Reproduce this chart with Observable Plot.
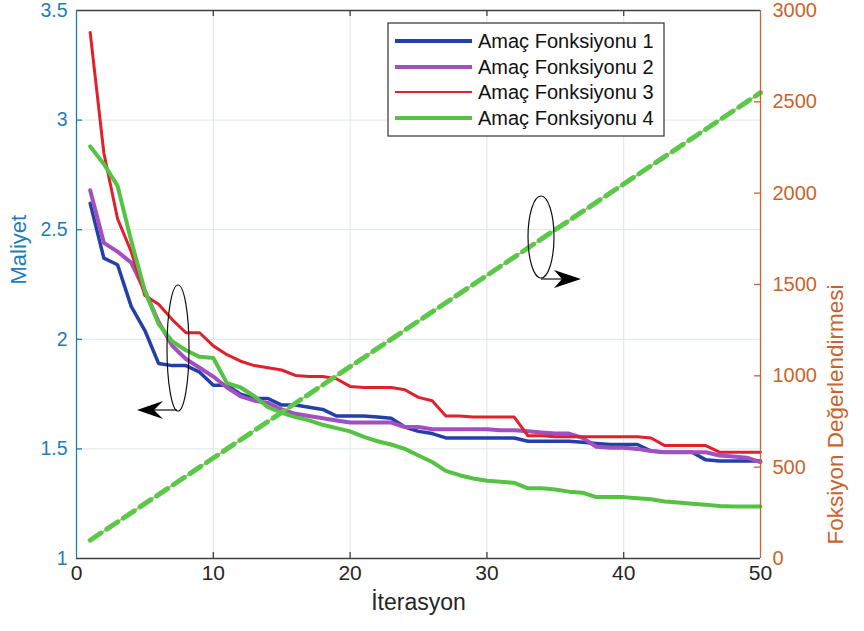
<!DOCTYPE html>
<html>
<head>
<meta charset="utf-8">
<script src="https://cdn.jsdelivr.net/npm/d3@7"></script>
<script src="https://cdn.jsdelivr.net/npm/@observablehq/plot@0.6"></script>
<style>
  html, body { margin: 0; padding: 0; background: #fff; }
  #chart svg { display: block; }
</style>
</head>
<body>
<div id="chart"></div>
<script>
// ---- Data ----
const iterations = [1,2,3,4,5,6,7,8,9,10,11,12,13,14,15,16,17,18,19,20,21,22,23,24,25,26,27,28,29,30,31,32,33,34,35,36,37,38,39,40,41,42,43,44,45,46,47,48,49,50];

const cost1 = [2.62,2.37,2.34,2.15,2.04,1.89,1.88,1.88,1.85,1.79,1.79,1.75,1.73,1.73,1.70,1.70,1.69,1.68,1.65,1.65,
               1.65,1.645,1.64,1.60,1.58,1.57,1.55,1.55,1.55,1.55,1.55,1.55,1.535,1.535,1.535,1.535,1.53,1.525,1.52,1.52,
               1.52,1.49,1.485,1.485,1.485,1.45,1.445,1.445,1.445,1.445];
const cost2 = [2.68,2.44,2.40,2.35,2.22,2.08,1.97,1.91,1.87,1.83,1.78,1.74,1.72,1.71,1.68,1.66,1.65,1.64,1.63,1.62,
               1.62,1.62,1.62,1.60,1.60,1.59,1.59,1.59,1.59,1.59,1.585,1.585,1.58,1.575,1.57,1.57,1.55,1.51,1.505,1.505,
               1.50,1.49,1.485,1.485,1.485,1.485,1.47,1.465,1.46,1.44];
const cost3 = [3.40,2.85,2.55,2.40,2.20,2.16,2.09,2.03,2.03,1.97,1.93,1.90,1.88,1.87,1.86,1.835,1.83,1.83,1.82,1.785,
               1.78,1.78,1.78,1.77,1.735,1.72,1.65,1.65,1.645,1.645,1.645,1.645,1.56,1.56,1.555,1.555,1.555,1.555,1.555,1.555,
               1.555,1.55,1.515,1.515,1.515,1.515,1.485,1.485,1.485,1.485];
const cost4 = [2.88,2.80,2.70,2.45,2.22,2.07,1.99,1.95,1.92,1.915,1.80,1.78,1.74,1.69,1.665,1.645,1.63,1.61,1.595,1.58,
               1.555,1.535,1.52,1.50,1.47,1.44,1.40,1.38,1.365,1.355,1.35,1.345,1.32,1.32,1.315,1.305,1.30,1.28,1.28,1.28,
               1.275,1.27,1.26,1.255,1.25,1.245,1.24,1.237,1.237,1.237];
const evaluations = [100,150,200,250,300,350,400,450,500,550,600,650,700,750,800,850,900,950,1000,1050,
                     1100,1150,1200,1250,1300,1350,1400,1450,1500,1550,1600,1650,1700,1750,1800,1850,1900,1950,2000,2050,
                     2100,2150,2200,2250,2300,2350,2400,2450,2500,2550];

const seriesNames = ["Amaç Fonksiyonu 1", "Amaç Fonksiyonu 2", "Amaç Fonksiyonu 3", "Amaç Fonksiyonu 4"];
const seriesValues = [cost1, cost2, cost3, cost4];

const xTicks = [0, 10, 20, 30, 40, 50];
const costTicks = [1, 1.5, 2, 2.5, 3, 3.5];
const evalTicks = [0, 500, 1000, 1500, 2000, 2500, 3000];
const xDomain = [0, 50];
const costDomain = [1, 3.5];
const evalDomain = [0, 3000];

// ---- Styles ----
const seriesColors = ["#2140a8", "#a24fc0", "#e0202c", "#55c244"];
const seriesWidths = [3.5, 4, 3, 4];
const leftColor = "#1e7db8";
const rightColor = "#c8652e";
const axisColor = "#404040";
const gridColor = "#dde6ea";
const font = "'Liberation Sans', Arial, Helvetica, sans-serif";

// map right axis values onto the left (primary) scale
const evalToCost = d3.scaleLinear(evalDomain, costDomain);

const W = 864, H = 631;
const mT = 10, mR = 104, mB = 73, mL = 76;
const frameW = W - mL - mR, frameH = H - mT - mB;
const tick = 6;

const rows = seriesValues.map(vals => iterations.map((it, i) => ({it, v: vals[i]})));
const evalRows = iterations.map((it, i) => ({it, fe: evaluations[i]}));

const plot = Plot.plot({
  width: W, height: H,
  marginTop: mT, marginRight: mR, marginBottom: mB, marginLeft: mL,
  x: {domain: xDomain, axis: null},
  y: {domain: costDomain, axis: null},
  style: {fontFamily: font, background: "#fff", overflow: "visible"},
  marks: [
    Plot.gridX(xTicks.slice(1, -1), {stroke: gridColor, strokeOpacity: 1, strokeWidth: 1}),
    Plot.gridY(costTicks.slice(1, -1), {stroke: gridColor, strokeOpacity: 1, strokeWidth: 1}),
    // data lines
    ...rows.map((r, k) => Plot.line(r, {x: "it", y: "v", stroke: seriesColors[k], strokeWidth: seriesWidths[k], strokeLinejoin: "round", strokeLinecap: "round"})),
    // function evaluations (right axis)
    Plot.line(evalRows, {x: "it", y: d => evalToCost(d.fe), stroke: "#b9b070", strokeWidth: 1.5}),
    Plot.line(evalRows, {x: "it", y: d => evalToCost(d.fe), stroke: "#5cc84a", strokeWidth: 5, strokeDasharray: "13,7"}),
    // box / axis lines
    Plot.ruleY([costDomain[0]], {stroke: axisColor, strokeWidth: 1.3}),
    Plot.ruleY([costDomain[1]], {stroke: axisColor, strokeWidth: 1.3}),
    Plot.ruleX([xDomain[0]], {stroke: leftColor, strokeWidth: 1.3}),
    Plot.ruleX([xDomain[1]], {stroke: rightColor, strokeWidth: 1.3}),
    // inward ticks
    Plot.ruleX(xTicks.slice(1, -1), {x: d => d, stroke: axisColor, strokeWidth: 1.3, insetTop: frameH - tick}),
    Plot.ruleX(xTicks.slice(1, -1), {x: d => d, stroke: axisColor, strokeWidth: 1.3, insetBottom: frameH - tick}),
    Plot.ruleY(costTicks.slice(1, -1), {y: d => d, stroke: leftColor, strokeWidth: 1.3, insetRight: frameW - tick}),
    Plot.ruleY(evalTicks.slice(1, -1), {y: d => evalToCost(d), stroke: rightColor, strokeWidth: 1.3, insetLeft: frameW - tick}),
    // tick labels
    Plot.text(xTicks, {x: d => d, frameAnchor: "bottom", dy: 21, text: d => String(d), fontSize: 21, fill: "#262626"}),
    Plot.text(costTicks, {y: d => d, frameAnchor: "left", textAnchor: "end", dx: -9, text: d => String(d), fontSize: 19.5, fill: leftColor}),
    Plot.text(evalTicks, {y: d => evalToCost(d), frameAnchor: "right", textAnchor: "start", dx: 12, text: d => String(d), fontSize: 20, fill: rightColor}),
    // axis titles
    Plot.text(["İterasyon"], {frameAnchor: "bottom", dy: 51, text: d => d, fontSize: 23, fill: "#262626"}),
    Plot.text(["Maliyet"], {frameAnchor: "left", dx: -58, rotate: -90, text: d => d, fontSize: 22, fill: leftColor}),
    Plot.text(["Foksiyon Değerlendirmesi"], {frameAnchor: "right", dx: 75, rotate: -90, text: d => d, fontSize: 22.5, fill: rightColor})
  ]
});

// ---- Legend and annotations (inside the SVG) ----
const svg = d3.select(plot);
const g = svg.append("g").attr("font-family", font).attr("text-anchor", "start");

const lg = g.append("g");
lg.append("rect").attr("x", 388).attr("y", 23).attr("width", 276).attr("height", 113)
  .attr("fill", "#fff").attr("stroke", "#333").attr("stroke-width", 1.2);
const legendY = [41, 67, 92, 118];
seriesNames.forEach((name, k) => {
  lg.append("line").attr("x1", 395).attr("x2", 472).attr("y1", legendY[k]).attr("y2", legendY[k])
    .attr("stroke", seriesColors[k]).attr("stroke-width", k === 2 ? 2.2 : 4);
  lg.append("text").attr("x", 478).attr("y", legendY[k]).attr("dy", "0.35em")
    .attr("text-anchor", "start").style("font-size", "20px").attr("fill", "#111").text(name);
});

// left ellipse + arrow
g.append("ellipse").attr("cx", 178).attr("cy", 348).attr("rx", 11).attr("ry", 63)
  .attr("fill", "none").attr("stroke", "#111").attr("stroke-width", 1.2);
g.append("line").attr("x1", 177).attr("x2", 154).attr("y1", 410).attr("y2", 410)
  .attr("stroke", "#111").attr("stroke-width", 1.2);
g.append("path").attr("d", "M137,410 L163,401 L154,410 L163,419 Z").attr("fill", "#000");

// right ellipse + arrow
g.append("ellipse").attr("cx", 541).attr("cy", 237).attr("rx", 13).attr("ry", 41)
  .attr("fill", "none").attr("stroke", "#111").attr("stroke-width", 1.2);
g.append("line").attr("x1", 541).attr("x2", 562).attr("y1", 279).attr("y2", 279)
  .attr("stroke", "#111").attr("stroke-width", 1.2);
g.append("path").attr("d", "M581,279 L554,270 L562,279 L554,288 Z").attr("fill", "#000");

document.getElementById("chart").appendChild(plot);
</script>
</body>
</html>
